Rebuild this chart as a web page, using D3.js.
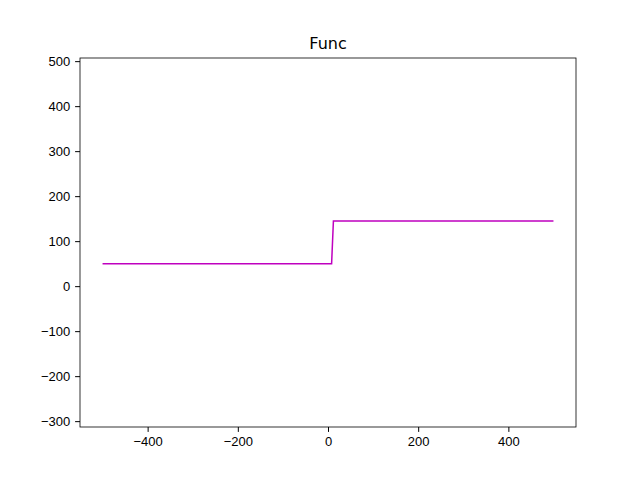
<!DOCTYPE html>
<html><head><meta charset="utf-8">
<script src="https://cdn.jsdelivr.net/npm/d3@7"></script>
<style>body{margin:0;background:#fff}svg{font-family:"DejaVu Sans",sans-serif}</style>
</head><body>
<svg id="c" width="640" height="480"></svg>
<script>
const xs = [-500, 8, 12, 500];
const ys = [50, 50, 145, 145];
const xTicks = [-400, -200, 0, 200, 400];
const yTicks = [-300, -200, -100, 0, 100, 200, 300, 400, 500];
const title = "Func";

const svg = d3.select("#c");
const L = 80, R = 576, T = 58, B = 427;
const x = d3.scaleLinear().domain([-550, 550]).range([L, R]);
const y = d3.scaleLinear().domain([-313, 507]).range([B, T]);

svg.append("g").attr("transform", `translate(0,${B})`)
  .call(d3.axisBottom(x).tickValues(xTicks).tickSize(4.9).tickPadding(4.9).tickFormat(d => d < 0 ? "\u2212" + (-d) : d))
  .call(g => g.selectAll("text").attr("font-size", 13).attr("fill", "#000"));
svg.append("g").attr("transform", `translate(${L},0)`)
  .call(d3.axisLeft(y).tickValues(yTicks).tickSize(4.9).tickPadding(4.9).tickFormat(d => d < 0 ? "\u2212" + (-d) : d))
  .call(g => g.selectAll("text").attr("font-size", 13).attr("fill", "#000"));
svg.selectAll(".domain").remove();
svg.append("rect").attr("x", L).attr("y", T).attr("width", R - L).attr("height", B - T)
  .attr("fill", "none").attr("stroke", "#000").attr("stroke-width", 0.8);

svg.append("path").datum(xs.map((v, i) => [v, ys[i]]))
  .attr("d", d3.line().x(d => x(d[0])).y(d => y(d[1])))
  .attr("fill", "none").attr("stroke", "#bf00bf").attr("stroke-width", 1.5);

svg.append("text").attr("x", (L + R) / 2).attr("y", T - 9).attr("text-anchor", "middle")
  .attr("font-size", 16).text(title);
</script>
</body></html>
